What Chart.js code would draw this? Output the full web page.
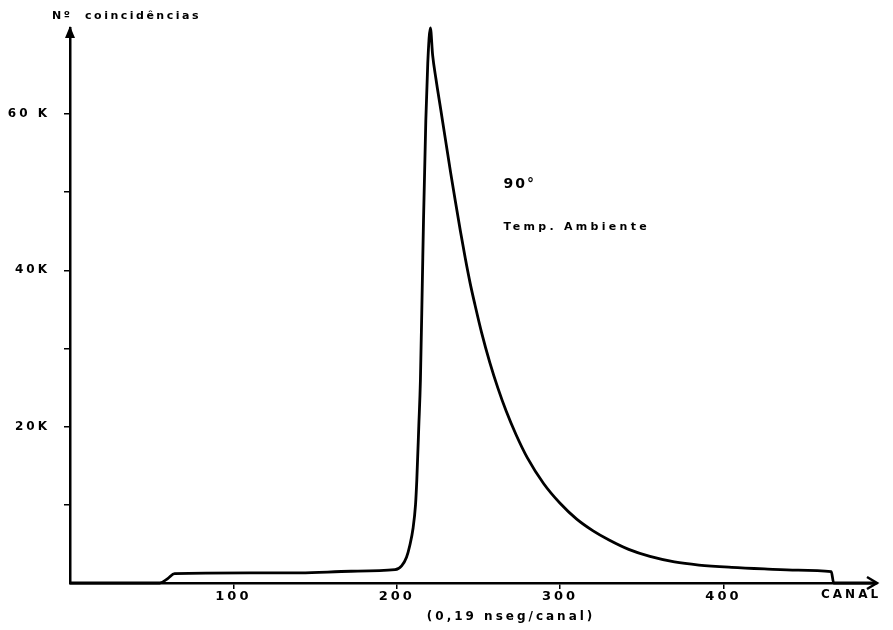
<!DOCTYPE html>
<html>
<head>
<meta charset="utf-8">
<script src="https://cdn.jsdelivr.net/npm/chart.js@4"></script>
<style>
  html, body { margin: 0; background: #fff; }
  #wrap { width: 893px; height: 630px; }
</style>
</head>
<body>
<div id="wrap"><canvas id="spectrum"></canvas></div>
<script>
// channel number (0,19 nseg/canal) and coincidences in thousands
const channels = [0, 55, 60, 64, 110, 141, 172, 199, 203, 206, 208, 210, 211.5, 212.3, 213.5, 214.5, 215.7, 216.4, 217.8, 219, 220.6,
  222, 224, 227, 230, 233, 236, 239, 242, 245, 248, 252, 257, 262, 267, 273, 280, 290, 300, 310, 320, 330, 342, 355, 370, 385, 405, 425, 445, 466, 467.5, 492];
const counts = [0, 0, 0.6, 1.2, 1.3, 1.3, 1.5, 1.7, 2.2, 3.3, 4.8, 7, 10, 13.2, 20, 25.9, 38.7, 46.4, 59.1, 66.5, 71.0,
  67.5, 64.5, 60.5, 56.5, 52.5, 48.7, 45, 41.5, 38.3, 35.5, 32.0, 28.2, 24.9, 22.0, 19.0, 16.0, 12.7, 10.2, 8.2, 6.7, 5.5, 4.3, 3.4, 2.7, 2.3, 2.0, 1.8, 1.65, 1.45, 0, 0];

const xTicks = [100, 200, 300, 400];
const yTicks = [10, 20, 30, 40, 50, 60];
const yLabels = { 20: "20K", 40: "40K", 60: "60 K" };

const FONT = "'DejaVu Sans', sans-serif";

// axis arrows and loose texts
const decor = {
  id: "decor",
  beforeDraw(chart) {
    chart.ctx.letterSpacing = "3px";
  },
  afterDraw(chart) {
    const { ctx, chartArea: a, scales } = chart;
    ctx.save();
    ctx.fillStyle = "#000";
    ctx.strokeStyle = "#000";

    // y arrow
    ctx.beginPath();
    ctx.moveTo(a.left, a.top - 2);
    ctx.lineTo(a.left - 5, a.top + 10);
    ctx.lineTo(a.left + 5, a.top + 10);
    ctx.closePath();
    ctx.fill();

    // x arrow
    ctx.lineWidth = 2.5;
    ctx.beginPath();
    ctx.moveTo(a.right - 10, a.bottom - 6);
    ctx.lineTo(a.right, a.bottom);
    ctx.lineTo(a.right - 10, a.bottom + 6);
    ctx.stroke();

    ctx.textBaseline = "middle";
    ctx.textAlign = "left";

    ctx.letterSpacing = "2.5px";
    ctx.font = "bold 11px " + FONT;
    ctx.fillText("Nº  coincidências", a.left - 18, 16);

    ctx.letterSpacing = "3px";
    ctx.font = "bold 12px " + FONT;
    ctx.fillText("CANAL", a.right - 56, a.bottom + 12);

    ctx.textAlign = "center";
    ctx.fillText("(0,19 nseg/canal)", scales.x.getPixelForValue(270), a.bottom + 34);

    ctx.textAlign = "left";
    ctx.font = "bold 14px " + FONT;
    ctx.letterSpacing = "2px";
    ctx.fillText("90°", scales.x.getPixelForValue(265.3), scales.y.getPixelForValue(51));

    ctx.font = "bold 11px " + FONT;
    ctx.letterSpacing = "3.3px";
    ctx.fillText("Temp. Ambiente", scales.x.getPixelForValue(265.3), scales.y.getPixelForValue(45.5));

    ctx.restore();
    ctx.letterSpacing = "0px";
  }
};

const ctx = document.getElementById("spectrum");
new Chart(ctx, {
  type: "line",
  data: {
    datasets: [
      {
        data: channels.map((c, i) => ({ x: c, y: counts[i] })),
        borderColor: "#000",
        borderWidth: 2.8,
        pointRadius: 0,
        fill: false,
        cubicInterpolationMode: "monotone",
        clip: false
      }
    ]
  },
  options: {
    responsive: true,
    maintainAspectRatio: false,
    animation: false,
    devicePixelRatio: 1,
    layout: { padding: { left: 0, right: 16, top: 28, bottom: 0 } },
    plugins: {
      legend: { display: false },
      tooltip: { enabled: false }
    },
    scales: {
      x: {
        type: "linear",
        min: 0,
        max: 494,
        afterBuildTicks: s => { s.ticks = xTicks.map(v => ({ value: v })); },
        afterFit: s => { s.height = 47; },
        ticks: {
          color: "#000",
          autoSkip: false,
          maxRotation: 0,
          padding: 0,
          font: { family: FONT, weight: "bold", size: 13 },
          callback: v => String(v)
        },
        grid: { drawOnChartArea: false, drawTicks: true, tickLength: 6, color: "#000", lineWidth: 1.5 },
        border: { display: true, color: "#000", width: 2.5 }
      },
      y: {
        type: "linear",
        min: 0,
        max: 71,
        afterBuildTicks: s => { s.ticks = yTicks.map(v => ({ value: v })); },
        afterFit: s => { s.width = 70; },
        ticks: {
          color: "#000",
          autoSkip: false,
          padding: 14,
          font: { family: FONT, weight: "bold", size: 12 },
          callback: v => yLabels[v] || ""
        },
        grid: { drawOnChartArea: false, drawTicks: true, tickLength: 6, color: "#000", lineWidth: 1.5 },
        border: { display: true, color: "#000", width: 2.5 }
      }
    }
  },
  plugins: [decor]
});
</script>
</body>
</html>
